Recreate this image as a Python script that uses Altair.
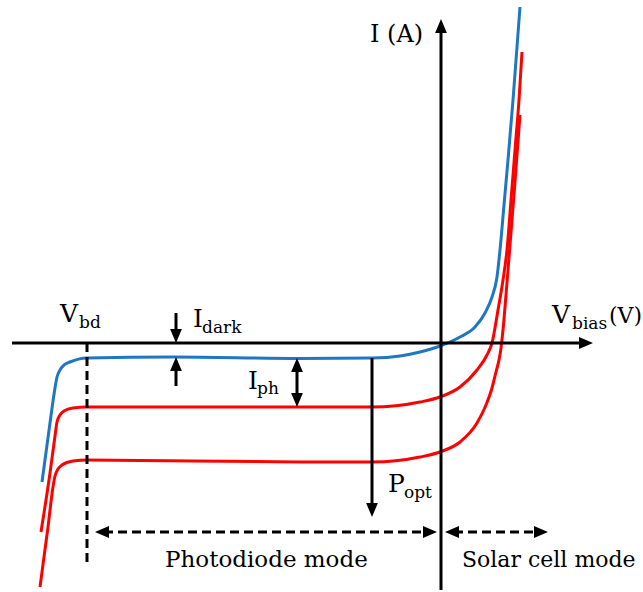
import altair as alt
import pandas as pd

W, H = 643, 592

# ---- I-V curves (diagram coordinates; y grows downward) ----
dark_x = [42, 50, 55, 57, 60, 64, 70, 87, 173, 300, 372, 400, 420, 440, 460, 475, 485, 492, 497, 500, 504, 508, 513, 520]
dark_y = [482, 423, 388, 377, 370, 365, 362, 358, 357, 358.5, 358, 356, 352, 346, 337, 327, 313, 297, 277, 250, 205, 160, 100, 7]

light1_x = [41, 50, 55, 57, 60, 64, 73, 87, 167, 300, 372, 420, 440, 460, 477, 487, 492, 498, 503, 507, 511, 515, 519, 522]
light1_y = [532, 473, 436, 422, 415, 411, 408, 407, 407, 407, 407, 402, 397, 387, 370, 355, 343, 310, 280, 250, 200, 150, 100, 52]

light2_x = [40, 48, 53, 55, 58, 62, 73, 87, 300, 372, 420, 440, 460, 477, 486, 492, 496, 499, 501, 503, 506, 510, 514, 517, 520]
light2_y = [587, 527, 487, 476, 469, 465, 461, 460, 462, 462, 457, 452, 442, 423, 405, 388, 372, 360, 348, 330, 295, 245, 195, 155, 115]

# ---- straight segments: x, y, x2, y2 ----
axis_segs = [(12, 343, 582, 343), (441, 590, 441, 32)]
solid_segs = [(176, 313, 176, 334), (176, 366, 176, 386),
              (297, 367, 297, 398), (372, 358, 372, 507)]
dash_segs = [(87, 343, 87, 565), (104, 532, 428, 532), (454, 532, 539, 532)]

# ---- arrow heads: tip x, tip y, direction ----
heads = [(593, 343, "right"), (441, 19, "up"),
         (176, 343, "down"), (176, 357, "up"),
         (297, 358, "up"), (297, 407, "down"),
         (372, 517, "down"),
         (95, 532, "left"), (437, 532, "right"),
         (445, 532, "left"), (548, 532, "right")]

# ---- labels: x, y (baseline), text, size ----
labels = [(60, 322, "V", 25), (79, 328, "bd", 17),
          (193, 327, "I", 25), (202, 333, "dark", 17),
          (248, 389, "I", 25), (257, 394, "ph", 17),
          (388, 492, "P", 25), (404, 498, "opt", 17),
          (552, 323, "V", 25), (572, 329, "bias", 17), (609, 323, "(V)", 22),
          (370, 42, "I (A)", 24),
          (165, 567, "Photodiode mode", 23),
          (462, 567, "Solar cell mode", 22)]

xs = alt.Scale(domain=[0, W], nice=False, zero=False)
ys = alt.Scale(domain=[0, H], reverse=True, nice=False, zero=False)
X = lambda f: alt.X(f, type="quantitative", scale=xs, axis=None)
Y = lambda f: alt.Y(f, type="quantitative", scale=ys, axis=None)


def curve(xv, yv, color):
    df = pd.DataFrame({"x": xv, "y": yv, "k": range(len(xv))})
    return alt.Chart(df).mark_line(
        color=color, strokeWidth=3, interpolate="monotone"
    ).encode(x=X("x"), y=Y("y"), order=alt.Order("k:Q"))


def segs(data, dash=None):
    df = pd.DataFrame(data, columns=["x", "y", "x2", "y2"])
    kw = dict(color="black", strokeWidth=3)
    if dash:
        kw["strokeDash"] = dash
    return alt.Chart(df).mark_rule(**kw).encode(
        x=X("x"), y=Y("y"), x2="x2", y2="y2")


paths = {
    "up": "M0,0L-0.42,1L0.42,1Z",
    "down": "M0,0L-0.42,-1L0.42,-1Z",
    "right": "M0,0L-1,-0.42L-1,0.42Z",
    "left": "M0,0L1,-0.42L1,0.42Z",
}
heads_df = pd.DataFrame(heads, columns=["x", "y", "dir"])
head_layer = alt.Chart(heads_df).mark_point(
    filled=True, color="black", opacity=1, strokeWidth=0
).encode(
    x=X("x"), y=Y("y"),
    shape=alt.Shape("dir:N", scale=alt.Scale(domain=list(paths.keys()),
                                              range=list(paths.values())),
                    legend=None),
    size=alt.value(784),
)

lab_df = pd.DataFrame(labels, columns=["x", "y", "text", "size"])
text_layer = alt.Chart(lab_df).mark_text(
    align="left", baseline="alphabetic",
    font="DejaVu Serif",
    color="black"
).encode(x=X("x"), y=Y("y"), text="text:N",
         size=alt.Size("size:Q", scale=None))

chart = alt.layer(
    curve(light2_x, light2_y, "#FF0000"),
    curve(light1_x, light1_y, "#FF0000"),
    curve(dark_x, dark_y, "#1F77C4"),
    segs(axis_segs),
    segs(solid_segs),
    segs(dash_segs, dash=[9, 5]),
    head_layer,
    text_layer,
).properties(
    width=W, height=H, padding=0,
    autosize=alt.AutoSizeParams(type="none"),
    background="white",
).configure_view(stroke=None)

chart.save("out.html", embed_options={"renderer": "svg", "actions": False})
